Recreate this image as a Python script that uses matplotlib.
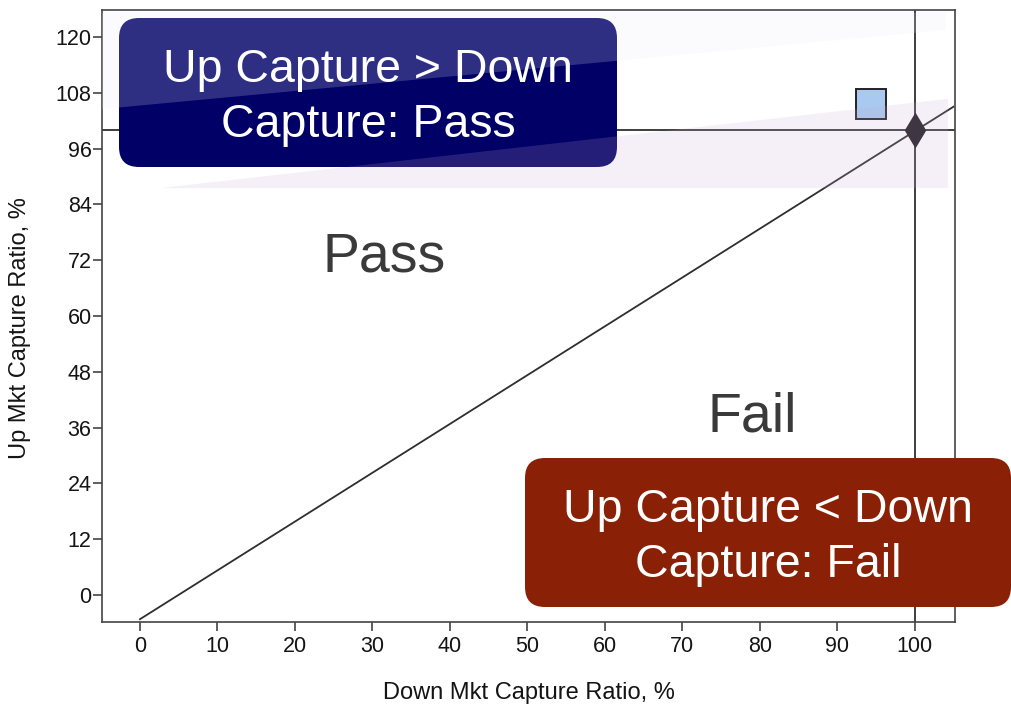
import matplotlib.pyplot as plt
from matplotlib.patches import FancyBboxPatch, Polygon
from matplotlib.transforms import IdentityTransform

plt.rcParams['font.family'] = ['Liberation Sans', 'DejaVu Sans']

# Data
x_ticks = [0, 10, 20, 30, 40, 50, 60, 70, 80, 90, 100]
y_ticks = [0, 12, 24, 36, 48, 60, 72, 84, 96, 108, 120]
diag_x = [0, 105]
diag_y = [-5.2, 105]
fund_down = [94.3]
fund_up = [105.6]
bench_down = [100]
bench_up = [100]
ref_level = 100

# faint tinted wedges (slide artefacts), in data units
blue_wedge_x = [-4.9, 104.0, 104.0, -4.9]
blue_wedge_y = [125.2, 125.2, 121.5, 104.5]
purple_wedge_x = [2.6, 104.3, 104.3]
purple_wedge_y = [87.5, 106.7, 87.5]

W, H = 1011, 708
fig = plt.figure(figsize=(W / 100, H / 100), dpi=100)
ax = fig.add_axes([102 / W, (H - 622) / H, (955 - 102) / W, (622 - 10) / H])

line_col = '#2e2e2e'
ax.plot(diag_x, diag_y, color=line_col, lw=1.3, zorder=2)
ax.axhline(ref_level, color=line_col, lw=1.3, zorder=2)
ax.axvline(ref_level, color=line_col, lw=1.3, zorder=2)
ax.plot(fund_down, fund_up, 's', ms=21, mfc='#a9c9f0', mec='#222222', mew=1.4, zorder=3)
ax.plot(bench_down, bench_up, 'd', ms=15, mfc='#211d24', mec='#211d24', mew=2.2, zorder=4)

ax.set_xlim(-4.9, 105.2)
ax.set_ylim(-5.8, 125.8)
ax.set_xticks(x_ticks)
ax.set_yticks(y_ticks)
for sp in ax.spines.values():
    sp.set_color('#444444')
    sp.set_linewidth(1.2)
ax.tick_params(axis='both', direction='out', length=6.5, width=1.1, color='#333333',
               labelsize=15.5, labelcolor='#141414', top=False, right=False)
ax.tick_params(axis='x', pad=3.5)
ax.tick_params(axis='y', pad=1)

ax.set_xlabel('Down Mkt Capture Ratio, %', fontsize=17, color='#141414', va='center')
ax.xaxis.set_label_coords(0.50, (622 - 693) / 612)
ax.set_ylabel('Up Mkt Capture Ratio, %', fontsize=17, color='#141414', va='center')
ax.yaxis.set_label_coords((20 - 102) / 853, (622 - 328) / 612)

ax.text(23.5, 69.5, 'Pass', fontsize=40, color='#3a3a3a', ha='left', va='baseline')
ax.text(73.3, 35.1, 'Fail', fontsize=40, color='#3a3a3a', ha='left', va='baseline')

# callout boxes, in pixels (image y measured from the top)
def add_box(x0, y0, x1, y1, color, label):
    box = FancyBboxPatch((x0, H - y1), x1 - x0, y1 - y0,
                         boxstyle='round,pad=0,rounding_size=20',
                         transform=IdentityTransform(), facecolor=color,
                         edgecolor='none', zorder=5)
    fig.add_artist(box)
    fig.text((x0 + x1) / 2 / W, 1 - ((y0 + y1) / 2 + 5) / H, label, color='white',
             fontsize=33.5, ha='center', va='center', multialignment='center',
             linespacing=1.3, zorder=7)

add_box(119, 18, 617, 167, '#000066', 'Up Capture > Down\nCapture: Pass')
add_box(525, 458, 1011, 607, '#8a2106', 'Up Capture < Down\nCapture: Fail')

blue = Polygon(list(zip(blue_wedge_x, blue_wedge_y)), closed=True, transform=ax.transData,
               facecolor=(235 / 255, 238 / 255, 250 / 255), alpha=0.2,
               edgecolor='none', zorder=6)
purple = Polygon(list(zip(purple_wedge_x, purple_wedge_y)), closed=True, transform=ax.transData,
                 facecolor=(200 / 255, 170 / 255, 212 / 255), alpha=0.18,
                 edgecolor='none', zorder=6)
fig.add_artist(blue)
fig.add_artist(purple)

fig.savefig('out.png', dpi=100)
